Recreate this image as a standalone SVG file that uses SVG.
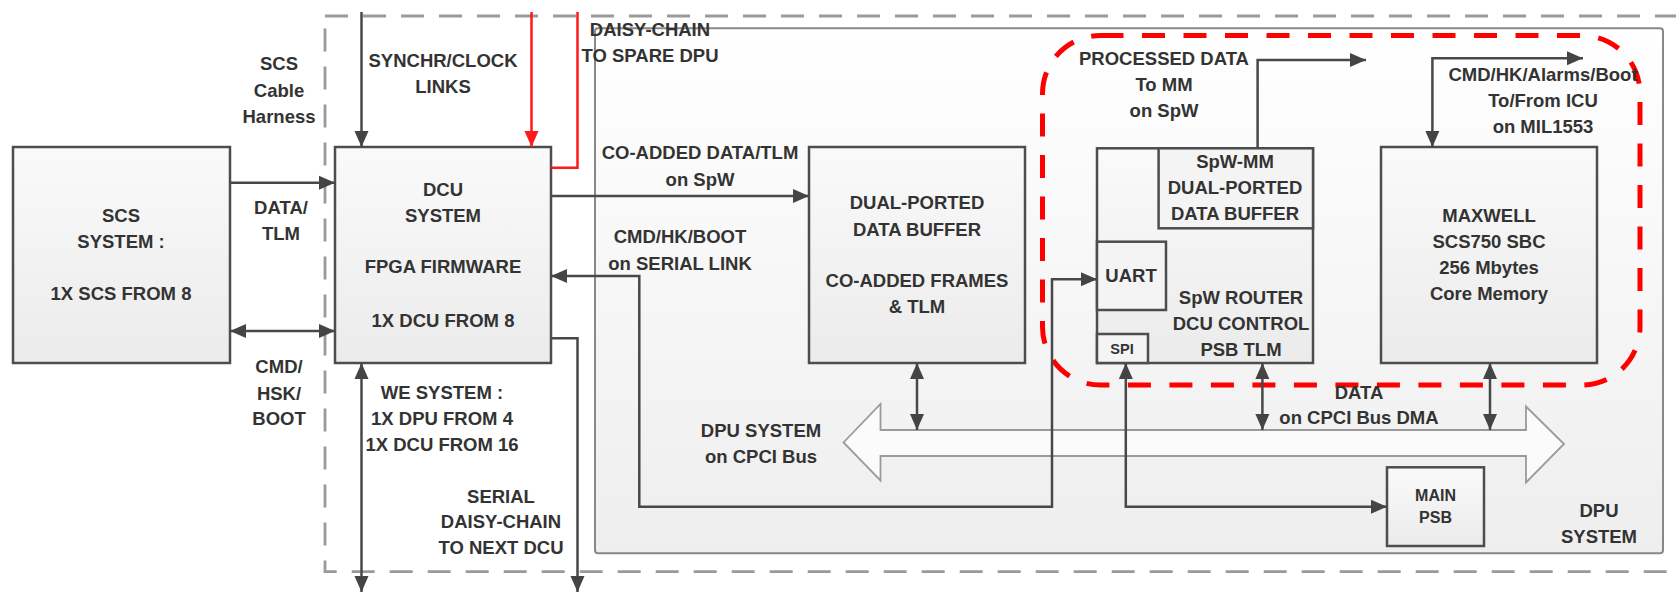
<svg xmlns="http://www.w3.org/2000/svg" width="1676" height="594" viewBox="0 0 1676 594">
<defs>
<linearGradient id="boxg" x1="0" y1="0" x2="0" y2="1"><stop offset="0" stop-color="#fafafa"/><stop offset="1" stop-color="#ebebeb"/></linearGradient>
<linearGradient id="dpug" x1="0" y1="0" x2="0" y2="1"><stop offset="0" stop-color="#ffffff"/><stop offset="1" stop-color="#eeeeee"/></linearGradient>
<marker id="ah" markerUnits="userSpaceOnUse" markerWidth="17" markerHeight="15" refX="16" refY="7" orient="auto-start-reverse" viewBox="0 0 17 14"><path d="M0,0 L16,7 L0,14 z" fill="#444"/></marker>
<marker id="ahr" markerUnits="userSpaceOnUse" markerWidth="17" markerHeight="15" refX="16" refY="7" orient="auto-start-reverse" viewBox="0 0 17 14"><path d="M0,0 L16,7 L0,14 z" fill="#ff1a1a"/></marker>
</defs>
<style>
text{font-family:"Liberation Sans",Arial,sans-serif;font-weight:bold;font-size:18.5px;fill:#333;text-anchor:middle}
.sm{font-size:16px}
.xs{font-size:14.5px}
.box{fill:url(#boxg);stroke:#4d4d4d;stroke-width:2.5}
.sub{fill:#f4f4f4;stroke:#4d4d4d;stroke-width:2.5}
.c{fill:none;stroke:#484848;stroke-width:2.5}
.e{marker-end:url(#ah)}
.b{marker-start:url(#ah);marker-end:url(#ah)}
.red{fill:none;stroke:#ff1a1a;stroke-width:2.5}
</style>
<rect width="1676" height="594" fill="#fff"/>
<g id="dpu-system">
<rect x="595" y="28.3" width="1068" height="525" rx="3" fill="url(#dpug)" stroke="#888" stroke-width="2"/>
<text x="1599" y="516.6">DPU</text>
<text x="1599" y="543.3">SYSTEM</text>
</g>
<g id="we-boundary">
<rect x="325" y="16" width="1400" height="555.7" fill="none" stroke="#9a9a9a" stroke-width="2.8" stroke-dasharray="23 15"/>
</g>
<g id="bus">
<polygon points="843.5,442.5 880.5,404 880.5,430 1526,430 1526,406.5 1564,444 1526,482.5 1526,456 880.5,456 880.5,480.5" fill="#fbfbfb" stroke="#9a9a9a" stroke-width="1.8"/>
<text x="761" y="436.6">DPU SYSTEM</text>
<text x="761" y="463.3">on CPCI Bus</text>
</g>
<g id="scs">
<rect class="box" x="13" y="147" width="217" height="216"/>
<text x="121" y="221.6">SCS</text>
<text x="121" y="248.3">SYSTEM :</text>
<text x="121" y="299.6">1X SCS FROM 8</text>
</g>
<g id="dcu">
<rect class="box" x="335" y="147" width="216" height="216"/>
<text x="443" y="195.9">DCU</text>
<text x="443" y="221.6">SYSTEM</text>
<text x="443" y="273.3">FPGA FIRMWARE</text>
<text x="443" y="326.6">1X DCU FROM 8</text>
</g>
<g id="dual-buffer">
<rect class="box" x="809" y="147" width="216" height="216"/>
<text x="917" y="209.3">DUAL-PORTED</text>
<text x="917" y="235.9">DATA BUFFER</text>
<text x="917" y="287.3">CO-ADDED FRAMES</text>
<text x="917" y="313.3">&amp; TLM</text>
</g>
<g id="router">
<rect class="box" x="1097" y="148.3" width="216" height="214.7"/>
<text x="1241" y="303.9">SpW ROUTER</text>
<text x="1241" y="329.9">DCU CONTROL</text>
<text x="1241" y="355.9">PSB TLM</text>
</g>
<g id="spw-mm">
<rect class="sub" x="1158.6" y="148.3" width="154.4" height="80"/>
<text x="1235" y="168.3">SpW-MM</text>
<text x="1235" y="194.3">DUAL-PORTED</text>
<text x="1235" y="219.9">DATA BUFFER</text>
</g>
<g id="uart">
<rect class="sub" x="1097" y="241.7" width="69" height="68.3"/>
<text x="1131" y="281.6">UART</text>
</g>
<g id="spi">
<rect class="sub" x="1097" y="334" width="51" height="29"/>
<text class="xs" x="1122" y="353.6">SPI</text>
</g>
<g id="maxwell">
<rect class="box" x="1381" y="147" width="216" height="216"/>
<text x="1489" y="221.6">MAXWELL</text>
<text x="1489" y="248.3">SCS750 SBC</text>
<text x="1489" y="274.3">256 Mbytes</text>
<text x="1489" y="299.9">Core Memory</text>
</g>
<g id="main-psb">
<rect class="box" x="1387" y="467.3" width="97" height="78.7"/>
<text class="sm" x="1435.5" y="500.8">MAIN</text>
<text class="sm" x="1435.5" y="522.5">PSB</text>
</g>
<g id="red-zone">
<rect x="1042.5" y="35.5" width="597.5" height="349.5" rx="58" fill="none" stroke="#ff0000" stroke-width="5" stroke-dasharray="23 18.5"/>
</g>
<g id="connectors">
<path class="c e" d="M361.5,12 V147"/>
<path class="c e" d="M230,182.7 H335"/>
<path class="c b" d="M230,331 H335"/>
<path class="c b" d="M361.5,363 V592"/>
<path class="c e" d="M551,338.3 H577.5 V592"/>
<path class="c e" d="M551,196 H809"/>
<path class="c b" d="M1097,279.3 H1052 V506.7 H639.3 V276 H551"/>
<path class="c b" d="M917,363 V430"/>
<path class="c b" d="M1262.4,363 V430"/>
<path class="c b" d="M1490,363 V430"/>
<path class="c b" d="M1125.8,363 V506.7 H1387"/>
<path class="c e" d="M1257.6,148.3 V60 H1366"/>
<path class="c b" d="M1583,58.3 H1432.4 V147"/>
<path class="red" d="M531.5,12 V147" marker-end="url(#ahr)"/>
<path class="red" d="M551,167.7 H577.5 V12"/>
</g>
<g id="labels">
<text x="279" y="69.9">SCS</text>
<text x="279" y="96.6">Cable</text>
<text x="279" y="123.3">Harness</text>
<text x="281" y="213.9">DATA/</text>
<text x="281" y="239.9">TLM</text>
<text x="279" y="373.3">CMD/</text>
<text x="279" y="399.9">HSK/</text>
<text x="279" y="424.9">BOOT</text>
<text x="443" y="66.6">SYNCHR/CLOCK</text>
<text x="443" y="92.6">LINKS</text>
<text x="650" y="35.9">DAISY-CHAIN</text>
<text x="650" y="61.6">TO SPARE DPU</text>
<text x="700" y="159.3">CO-ADDED DATA/TLM</text>
<text x="700" y="185.9">on SpW</text>
<text x="680" y="242.6">CMD/HK/BOOT</text>
<text x="680" y="269.9">on SERIAL LINK</text>
<text x="442" y="399.3">WE SYSTEM :</text>
<text x="442" y="424.9">1X DPU FROM 4</text>
<text x="442" y="450.9">1X DCU FROM 16</text>
<text x="501" y="502.6">SERIAL</text>
<text x="501" y="528.3">DAISY-CHAIN</text>
<text x="501" y="554.3">TO NEXT DCU</text>
<text x="1164" y="64.9">PROCESSED DATA</text>
<text x="1164" y="90.6">To MM</text>
<text x="1164" y="117.3">on SpW</text>
<text x="1543" y="80.6">CMD/HK/Alarms/Boot</text>
<text x="1543" y="106.6">To/From ICU</text>
<text x="1543" y="133.3">on MIL1553</text>
<text x="1359" y="399.3">DATA</text>
<text x="1359" y="423.9">on CPCI Bus DMA</text>
</g>
</svg>
